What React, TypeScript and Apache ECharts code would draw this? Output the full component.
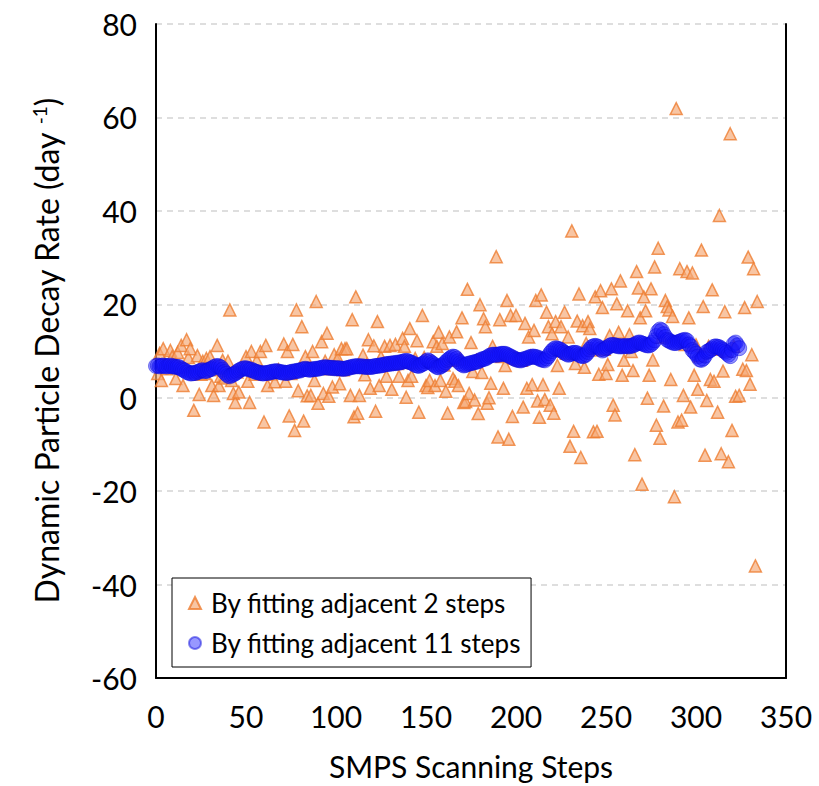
import React, { useEffect, useRef } from "react";
import * as echarts from "echarts";

const xTicks = { min: 0, max: 350, interval: 50 };
const yTicks = { min: -60, max: 80, interval: 20 };

const seriesNames = ["By fitting adjacent 2 steps", "By fitting adjacent 11 steps"];

// Orange triangles: [step, decay rate]
const orangePoints: [number, number][] = [
  [1,5.2],[2,9.5],[3,3.7],[4,10.5],[5,7],[6,6.2],[8,10.1],[9,8.8],[11,4.1],[12,9.7],[13,6.5],[14,11.2],[15,2.6],[17,12.4],[18,8.6],[19,10.5],[21,-2.7],[22,5.5],[23,9],[24,0.7],[25,5],[26,7.8],[27,5.2],[28,8.4],[30,8.8],[31,2.6],[32,0.5],[33,6],[34,11.2],[35,2.6],[36,4.6],[37,8],[38,4.2],[40,7.8],[41,18.8],[42,3.7],[43,0.9],[44,-1],[45,5.5],[46,1.2],[48,6.2],[50,8.8],[51,3.5],[52,-1],[53,9.9],[55,5],[56,8],[58,9.9],[60,-5.2],[61,11.2],[62,2.6],[64,5],[66,3.4],[68,6],[71,11.5],[72,3.5],[73,9.9],[74,-3.9],[75,5.2],[76,11.4],[77,-7],[78,18.8],[79,1.5],[81,15.2],[82,-5],[83,8.8],[84,0.4],[86,0.5],[87,9.9],[88,3.7],[89,20.6],[90,-1.2],[92,12],[93,0.9],[94,7.8],[95,13.8],[96,0.3],[97,6.2],[98,2.3],[99,9.2],
  [101,8.5],[102,3],[103,10.5],[104,6],[105,10.5],[106,10.5],[107,6.5],[108,0.5],[109,16.7],[110,-4.1],[111,21.6],[112,-3.3],[113,0.5],[115,9.1],[116,4.9],[117,7],[118,12.4],[119,2],[121,11.1],[122,-2.9],[123,16.3],[124,2.6],[125,8.7],[127,11],[128,4.6],[129,7.2],[130,11.2],[131,1.8],[133,11.4],[134,7.3],[135,4.6],[137,12.7],[138,11],[139,0.1],[140,3.7],[141,14.8],[142,4.6],[143,7.5],[144,8.4],[145,12.2],[146,-3.1],[148,17.6],[149,8.6],[150,2.6],[151,2.2],[152,3.7],[153,7.8],[154,12],[155,2.6],[156,11],[157,14],[158,3.7],[159,11.6],[160,7],[161,1.4],[162,-3.3],[163,13],[164,8],[165,4.1],[166,3.5],[167,14.1],[168,2.6],[169,8.3],[170,17.1],[171,-1],[172,-0.8],[173,23.2],[174,0.9],[175,11.8],[176,5.6],[177,-0.5],[178,8],[179,-3.4],[180,19.9],[181,5.4],[182,16.9],[183,15.2],[184,-1.2],[185,0],[186,3.1],[187,11],[189,30.2],[190,-8.4],[191,16.7],[192,8.8],[193,2],[194,6.9],[195,20.8],[196,-8.9],[197,17.6],[198,-4],[199,8.5],[200,17.6],
  [201,8.3],[203,8],[204,-2],[205,15.9],[206,2],[207,13],[208,8.9],[209,2.8],[210,14.4],[211,20.8],[212,-0.7],[213,-4.2],[214,22],[215,2.8],[216,-0.4],[217,18.3],[218,15.2],[219,-1.6],[220,13.7],[221,-3.3],[222,16.3],[223,6.9],[224,2],[225,15.2],[226,10],[227,18.3],[228,9.5],[229,13],[230,-10.4],[231,35.7],[232,-7.2],[233,7.3],[234,16.4],[235,22.2],[236,-12.8],[237,15.4],[238,6.5],[239,11.6],[240,16.3],[241,14.8],[242,10.2],[243,-7.3],[244,21.6],[245,-7.2],[246,5],[247,22.9],[248,19.3],[249,10.4],[250,5.2],[251,7.1],[252,13.3],[253,23.3],[254,-1.6],[255,-3.7],[256,20.1],[257,14],[258,25],[259,4.8],[260,8],[261,11],[262,18.6],[263,13.5],[264,9.9],[265,5.8],[266,-12.2],[267,27],[268,23.5],[269,17.1],[270,-18.5],[271,21.6],[272,18.6],[273,-0.1],[274,4.8],[275,23.3],[276,8.1],[277,28],[278,-5.9],[279,32],[280,-8.7],[281,13],[282,-1.8],[283,20.8],[284,19.5],[285,18.8],[286,3.9],[287,17.4],[288,-21.2],[289,61.9],[290,-5.2],[291,27.6],[292,-4.8],[293,0.5],[294,11.4],[295,27],[296,17.1],[297,-2],[298,26.7],[299,4.8],[300,11.3],
  [301,1.8],[302,9],[303,31.6],[304,19.5],[305,-12.3],[306,-0.6],[307,11],[308,3.9],[309,23.1],[310,3.5],[311,10.4],[312,-3.1],[313,39],[314,-12],[315,5.7],[316,18.4],[317,10],[318,-13.7],[319,56.5],[320,-7],[321,11],[322,0.3],[324,0.5],[326,6.1],[327,19.3],[328,5.8],[329,30.1],[330,2.9],[331,9.2],[332,27.6],[333,-36],[334,20.6]
];

// Blue circles: one value per step, starting at step 0
const blueValues: number[] = [
  6.8,6.9,6.7,6.8,6.9,6.8,6.7,6.8,6.9,6.7,
  6.7,6.6,6.6,6.5,6.2,6.0,5.8,5.5,5.4,5.2,
  5.2,5.3,5.3,5.5,5.6,5.8,5.9,5.7,5.7,5.9,
  6.1,6.2,6.5,6.7,6.8,6.7,6.5,6.0,5.5,5.1,
  4.7,4.6,4.8,5.0,5.2,5.5,5.8,6.0,6.2,6.3,
  6.3,6.2,6.0,6.0,5.8,5.6,5.5,5.4,5.3,5.2,
  5.2,5.3,5.3,5.4,5.5,5.6,5.6,5.7,5.6,5.5,
  5.4,5.4,5.3,5.3,5.4,5.5,5.6,5.6,5.7,5.8,
  5.8,6.0,6.1,6.2,6.1,6.0,6.0,6.1,6.1,6.2,
  6.2,6.3,6.4,6.5,6.5,6.5,6.4,6.4,6.4,6.3,
  6.3,6.3,6.3,6.2,6.2,6.2,6.3,6.4,6.5,6.6,
  6.7,6.7,6.8,6.7,6.7,6.7,6.6,6.6,6.6,6.6,
  6.6,6.7,6.8,6.8,6.9,6.9,7.0,7.1,7.2,7.2,
  7.3,7.3,7.4,7.4,7.5,7.5,7.6,7.7,7.8,7.9,
  7.8,7.6,7.5,7.3,7.0,6.9,6.8,7.0,7.2,7.4,
  7.8,8.0,7.8,7.5,7.2,6.9,6.6,6.5,6.7,6.9,
  7.2,7.6,8.0,8.3,8.6,8.8,8.7,8.3,7.8,7.4,
  7.1,6.9,7.0,7.2,7.3,7.4,7.5,7.6,7.7,7.8,
  8.0,8.2,8.3,8.4,8.6,8.9,9.1,9.2,9.2,9.2,
  9.2,9.3,9.4,9.4,9.4,9.2,9.0,8.8,8.6,8.4,
  8.2,8.1,8.0,8.0,8.2,8.3,8.4,8.6,8.7,8.8,
  8.8,8.7,8.6,8.4,8.2,8.1,8.0,8.4,8.9,9.5,
  10.0,10.4,10.6,10.5,10.4,10.2,9.9,9.6,9.4,9.2,
  9.3,9.5,9.6,9.6,9.5,9.2,9.0,8.9,9.0,9.3,
  9.8,10.3,10.8,11.0,11.1,11.0,10.8,10.4,10.1,10.3,
  10.6,10.8,11.1,11.3,11.3,11.2,11.1,11.0,11.0,11.0,
  11.0,11.1,11.0,11.0,11.1,11.2,11.4,11.6,11.8,11.8,
  11.6,11.5,11.3,11.2,11.2,11.4,11.8,12.3,13.2,14.2,
  14.6,14.4,13.6,13.0,12.4,12.2,12.0,11.8,11.7,11.7,
  11.9,12.0,12.2,12.3,12.4,12.2,11.4,11.0,10.2,9.8,
  9.4,8.8,8.2,8.1,8.4,9.0,9.8,10.0,10.2,10.5,
  10.9,11.0,10.9,10.8,10.5,10.2,9.9,9.6,9.2,8.9,
  10.2,11.5,11.8,11.2,10.6
];

const FONT = "Lato, 'Open Sans', sans-serif";

export default function App() {
  const ref = useRef<HTMLDivElement>(null);
  useEffect(() => {
    if (!ref.current) return;
    const chart = echarts.init(ref.current, undefined, { renderer: "svg" });
    const blueData = blueValues.map((v, i) => [i, v]);
    chart.setOption({
      animation: false,
      backgroundColor: "#fff",
      textStyle: { fontFamily: FONT },
      grid: { left: 156, right: 33, top: 24, bottom: 105, containLabel: false },
      legend: {
        orient: "vertical",
        left: 172,
        top: 578,
        backgroundColor: "#fff",
        borderColor: "#000",
        borderWidth: 1,
        padding: [11, 10, 10, 16],
        itemGap: 12,
        itemWidth: 12,
        itemHeight: 12,
        textStyle: { fontSize: 26, lineHeight: 28, color: "#000", fontFamily: FONT, padding: [0, 0, 0, 5] },
        data: seriesNames,
      },
      xAxis: {
        type: "value",
        min: xTicks.min,
        max: xTicks.max,
        interval: xTicks.interval,
        name: "SMPS Scanning Steps",
        nameLocation: "middle",
        nameGap: 73,
        nameTextStyle: { fontSize: 30, color: "#000", fontFamily: FONT },
        axisLine: { show: true, onZero: false, lineStyle: { color: "#000", width: 2 } },
        axisTick: { show: false },
        axisLabel: { fontSize: 30, color: "#000", margin: 23, fontFamily: FONT },
        splitLine: { show: false },
      },
      yAxis: [
        {
          type: "value",
          min: yTicks.min,
          max: yTicks.max,
          interval: yTicks.interval,
          name: "{a|Dynamic Particle Decay Rate (day }{s|-1}{a|)}",
          nameLocation: "middle",
          nameGap: 93,
          nameTextStyle: {
            color: "#000",
            rich: {
              a: { fontSize: 32, color: "#000", fontFamily: FONT },
              s: { fontSize: 19, color: "#000", fontFamily: FONT, verticalAlign: "top", padding: [0, 0, 14, 0] },
            },
          },
          axisLine: { show: true, onZero: false, lineStyle: { color: "#000", width: 2 } },
          axisTick: { show: false },
          axisLabel: { fontSize: 30, color: "#000", margin: 19, fontFamily: FONT },
          splitLine: { show: true, lineStyle: { color: "#d4d4d4", type: [6, 5], width: 1.5 } },
        },
        {
          type: "value",
          min: yTicks.min,
          max: yTicks.max,
          interval: yTicks.interval,
          position: "right",
          axisLine: { show: true, onZero: false, lineStyle: { color: "#000", width: 2 } },
          axisTick: { show: false },
          axisLabel: { show: false },
          splitLine: { show: false },
        },
      ],
      series: [
        {
          name: seriesNames[0],
          type: "scatter",
          symbol: "triangle",
          symbolSize: 12,
          data: orangePoints,
          itemStyle: { color: "rgba(244,170,120,0.85)", borderColor: "#ED7D31", borderWidth: 1.5 },
          z: 2,
        },
        {
          name: seriesNames[1],
          type: "scatter",
          symbol: "circle",
          symbolSize: 15,
          data: blueData,
          itemStyle: { color: "rgba(20,20,255,0.55)", borderColor: "rgba(10,10,220,0.6)", borderWidth: 1 },
          z: 3,
        },
      ],
    });
    return () => chart.dispose();
  }, []);
  return (
    <div
      ref={ref}
      style={{ position: "fixed", left: 0, top: 0, width: 819, height: 786, background: "#fff" }}
    />
  );
}
